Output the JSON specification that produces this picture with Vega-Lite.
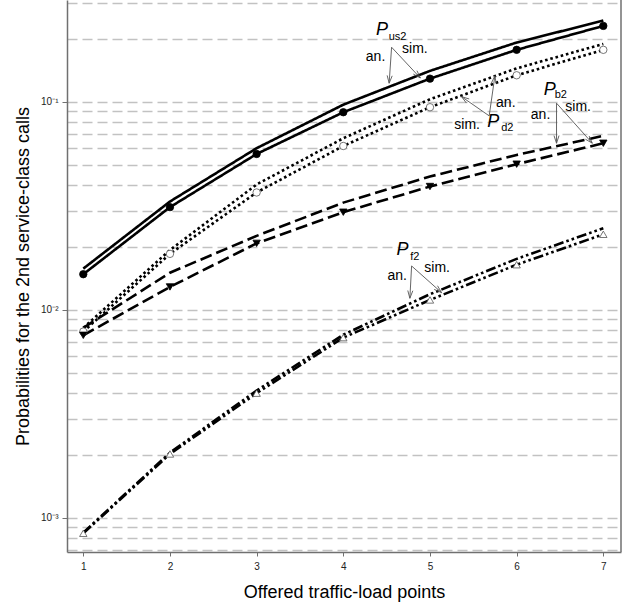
{
  "$schema": "https://vega.github.io/schema/vega-lite/v6.json",
  "width": 554,
  "height": 552,
  "autosize": {"type": "none"},
  "padding": {"left": 67, "top": 0, "right": 14, "bottom": 58},
  "background": "white",
  "config": {
    "view": {"stroke": null},
    "font": "Liberation Sans",
    "axis": {"domainColor": "#707070", "domainWidth": 1.5, "tickColor": "#707070", "labelColor": "#222", "titleColor": "#000", "titleFontWeight": "normal", "titleFont": "Liberation Sans", "labelFont": "Liberation Sans"}
  },
  "datasets": {
    "main": [
      {"x": 1, "s": "us2", "t": "sim", "p": 0.01485},
      {"x": 2, "s": "us2", "t": "sim", "p": 0.0312},
      {"x": 3, "s": "us2", "t": "sim", "p": 0.0562},
      {"x": 4, "s": "us2", "t": "sim", "p": 0.0892},
      {"x": 5, "s": "us2", "t": "sim", "p": 0.1294},
      {"x": 6, "s": "us2", "t": "sim", "p": 0.178},
      {"x": 7, "s": "us2", "t": "sim", "p": 0.232},
      {"x": 1, "s": "us2", "t": "an", "p": 0.0158},
      {"x": 2, "s": "us2", "t": "an", "p": 0.0332},
      {"x": 3, "s": "us2", "t": "an", "p": 0.0599},
      {"x": 4, "s": "us2", "t": "an", "p": 0.097},
      {"x": 5, "s": "us2", "t": "an", "p": 0.141},
      {"x": 6, "s": "us2", "t": "an", "p": 0.193},
      {"x": 7, "s": "us2", "t": "an", "p": 0.246},
      {"x": 1, "s": "d2", "t": "sim", "p": 0.00787},
      {"x": 2, "s": "d2", "t": "sim", "p": 0.0186},
      {"x": 3, "s": "d2", "t": "sim", "p": 0.0367},
      {"x": 4, "s": "d2", "t": "sim", "p": 0.0614},
      {"x": 5, "s": "d2", "t": "sim", "p": 0.0943},
      {"x": 6, "s": "d2", "t": "sim", "p": 0.1343},
      {"x": 7, "s": "d2", "t": "sim", "p": 0.178},
      {"x": 1, "s": "d2", "t": "an", "p": 0.0082},
      {"x": 2, "s": "d2", "t": "an", "p": 0.0194},
      {"x": 3, "s": "d2", "t": "an", "p": 0.0401},
      {"x": 4, "s": "d2", "t": "an", "p": 0.0669},
      {"x": 5, "s": "d2", "t": "an", "p": 0.103},
      {"x": 6, "s": "d2", "t": "an", "p": 0.145},
      {"x": 7, "s": "d2", "t": "an", "p": 0.19},
      {"x": 1, "s": "b2", "t": "sim", "p": 0.00755},
      {"x": 2, "s": "b2", "t": "sim", "p": 0.0129},
      {"x": 3, "s": "b2", "t": "sim", "p": 0.0209},
      {"x": 4, "s": "b2", "t": "sim", "p": 0.0295},
      {"x": 5, "s": "b2", "t": "sim", "p": 0.0392},
      {"x": 6, "s": "b2", "t": "sim", "p": 0.0502},
      {"x": 7, "s": "b2", "t": "sim", "p": 0.0633},
      {"x": 1, "s": "b2", "t": "an", "p": 0.0082},
      {"x": 2, "s": "b2", "t": "an", "p": 0.0151},
      {"x": 3, "s": "b2", "t": "an", "p": 0.0227},
      {"x": 4, "s": "b2", "t": "an", "p": 0.0328},
      {"x": 5, "s": "b2", "t": "an", "p": 0.0438},
      {"x": 6, "s": "b2", "t": "an", "p": 0.0556},
      {"x": 7, "s": "b2", "t": "an", "p": 0.0687},
      {"x": 1, "s": "f2", "t": "sim", "p": 0.000844},
      {"x": 2, "s": "f2", "t": "sim", "p": 0.00203},
      {"x": 3, "s": "f2", "t": "sim", "p": 0.00398},
      {"x": 4, "s": "f2", "t": "sim", "p": 0.00736},
      {"x": 5, "s": "f2", "t": "sim", "p": 0.01117},
      {"x": 6, "s": "f2", "t": "sim", "p": 0.0165},
      {"x": 7, "s": "f2", "t": "sim", "p": 0.0231},
      {"x": 1, "s": "f2", "t": "an", "p": 0.00085},
      {"x": 2, "s": "f2", "t": "an", "p": 0.00206},
      {"x": 3, "s": "f2", "t": "an", "p": 0.0041},
      {"x": 4, "s": "f2", "t": "an", "p": 0.0076},
      {"x": 5, "s": "f2", "t": "an", "p": 0.0119},
      {"x": 6, "s": "f2", "t": "an", "p": 0.0176},
      {"x": 7, "s": "f2", "t": "an", "p": 0.0247}
    ],
    "frame": [{"x": 7.204}],
    "arrows": [
      {"x": 4.557, "y": 0.1832, "x2": 4.529, "y2": 0.123},
      {"x": 4.564, "y": 0.1335, "x2": 4.529, "y2": 0.123},
      {"x": 4.506, "y": 0.1341, "x2": 4.529, "y2": 0.123},
      {"x": 4.557, "y": 0.1832, "x2": 4.889, "y2": 0.1303},
      {"x": 4.85, "y": 0.1413, "x2": 4.889, "y2": 0.1303},
      {"x": 4.808, "y": 0.1361, "x2": 4.889, "y2": 0.1303},
      {"x": 5.683, "y": 0.0857, "x2": 5.749, "y2": 0.1334},
      {"x": 5.708, "y": 0.1231, "x2": 5.749, "y2": 0.1334},
      {"x": 5.765, "y": 0.1222, "x2": 5.749, "y2": 0.1334},
      {"x": 5.683, "y": 0.0857, "x2": 5.364, "y2": 0.106},
      {"x": 5.42, "y": 0.0988, "x2": 5.364, "y2": 0.106},
      {"x": 5.453, "y": 0.1033, "x2": 5.364, "y2": 0.106},
      {"x": 6.46, "y": 0.0986, "x2": 6.46, "y2": 0.0633},
      {"x": 6.489, "y": 0.0689, "x2": 6.46, "y2": 0.0633},
      {"x": 6.431, "y": 0.0689, "x2": 6.46, "y2": 0.0633},
      {"x": 6.46, "y": 0.0986, "x2": 6.873, "y2": 0.0633},
      {"x": 6.836, "y": 0.0686, "x2": 6.873, "y2": 0.0633},
      {"x": 6.793, "y": 0.0662, "x2": 6.873, "y2": 0.0633},
      {"x": 4.788, "y": 0.01627, "x2": 4.768, "y2": 0.01138},
      {"x": 4.802, "y": 0.01237, "x2": 4.768, "y2": 0.01138},
      {"x": 4.744, "y": 0.0124, "x2": 4.768, "y2": 0.01138},
      {"x": 4.788, "y": 0.01627, "x2": 5.134, "y2": 0.01211},
      {"x": 5.087, "y": 0.01307, "x2": 5.134, "y2": 0.01211},
      {"x": 5.049, "y": 0.01255, "x2": 5.134, "y2": 0.01211}
    ],
    "labels": [
      {"x": 4.445, "y": 0.2218, "txt": "P", "k": "P"},
      {"x": 5.729, "y": 0.0804, "txt": "P", "k": "P"},
      {"x": 6.383, "y": 0.1142, "txt": "P", "k": "P"},
      {"x": 4.684, "y": 0.01943, "txt": "P", "k": "P"},
      {"x": 4.524, "y": 0.2061, "txt": "us2", "k": "sub"},
      {"x": 5.822, "y": 0.0747, "txt": "d2", "k": "sub"},
      {"x": 6.439, "y": 0.108, "txt": "b2", "k": "sub"},
      {"x": 4.772, "y": 0.01804, "txt": "f2", "k": "sub"},
      {"x": 4.372, "y": 0.164, "txt": "an.", "k": "note"},
      {"x": 4.826, "y": 0.179, "txt": "sim.", "k": "note"},
      {"x": 5.875, "y": 0.0986, "txt": "an.", "k": "note"},
      {"x": 5.429, "y": 0.0775, "txt": "sim.", "k": "note"},
      {"x": 6.276, "y": 0.0866, "txt": "an.", "k": "note"},
      {"x": 6.709, "y": 0.0949, "txt": "sim.", "k": "note"},
      {"x": 4.622, "y": 0.01457, "txt": "an.", "k": "note"},
      {"x": 5.083, "y": 0.01587, "txt": "sim.", "k": "note"}
    ]
  },
  "layer": [
    {
      "data": {"name": "main"},
      "mark": {"type": "line", "color": "black", "strokeWidth": 2.6},
      "encoding": {
        "x": {"field": "x", "type": "quantitative", "title": "Offered traffic-load points",
          "scale": {"domain": [0.812, 7.204], "nice": false, "zero": false},
          "axis": {"values": [1, 2, 3, 4, 5, 6, 7], "format": "d", "labelFlush": false, "grid": false, "tickSize": 4, "labelFontSize": 10, "labelPadding": 5, "titleFontSize": 18, "titlePadding": 12}},
        "y": {"field": "p", "type": "quantitative", "title": "Probabilities for the 2nd service-class calls",
          "scale": {"type": "log", "domain": [0.000686, 0.309], "nice": false},
          "axis": {"orient": "left",
            "values": [0.0007, 0.0008, 0.0009, 0.001, 0.002, 0.003, 0.004, 0.005, 0.006, 0.007, 0.008, 0.009, 0.01, 0.02, 0.03, 0.04, 0.05, 0.06, 0.07, 0.08, 0.09, 0.1, 0.2, 0.3],
            "labelExpr": "datum.value === 0.1 ? '10⁻¹' : datum.value === 0.01 ? '10⁻²' : datum.value === 0.001 ? '10⁻³' : ''",
            "tickOpacity": {"condition": {"test": "datum.value === 0.1 || datum.value === 0.01 || datum.value === 0.001", "value": 1}, "value": 0},
            "tickSize": 5, "labelPadding": 4, "labelFontSize": 10, "labelFlush": false,
            "grid": true, "gridColor": "#c2c2c2", "gridDash": [10, 5], "gridWidth": 1.6,
            "titleFontSize": 18, "titlePadding": 8}},
        "strokeDash": {"field": "s", "type": "nominal", "legend": null,
          "scale": {"domain": ["us2", "d2", "b2", "f2"], "range": [[1, 0], [2.6, 2.8], [12, 5], [10, 3, 2.6, 3, 2.6, 3]]}},
        "detail": {"field": "t"},
        "order": {"field": "x"}
      }
    },
    {
      "data": {"name": "frame"},
      "mark": {"type": "rule", "color": "#707070", "strokeWidth": 1.5},
      "encoding": {
        "x": {"field": "x", "type": "quantitative"}
      }
    },
    {
      "data": {"name": "main"},
      "transform": [{"filter": "datum.t === 'sim'"}],
      "mark": {"type": "point", "filled": true, "strokeWidth": 0.8, "size": 55, "opacity": 1},
      "encoding": {
        "x": {"field": "x", "type": "quantitative"},
        "y": {"field": "p", "type": "quantitative"},
        "shape": {"field": "s", "type": "nominal", "legend": null, "scale": {"domain": ["us2", "d2", "b2", "f2"], "range": ["circle", "circle", "triangle-down", "triangle-up"]}},
        "fill": {"field": "s", "type": "nominal", "legend": null, "scale": {"domain": ["us2", "d2", "b2", "f2"], "range": ["black", "white", "black", "white"]}},
        "stroke": {"field": "s", "type": "nominal", "legend": null, "scale": {"domain": ["us2", "d2", "b2", "f2"], "range": ["black", "#555555", "black", "#555555"]}}
      }
    },
    {
      "data": {"name": "arrows"},
      "mark": {"type": "rule", "color": "#555555", "strokeWidth": 0.9},
      "encoding": {
        "x": {"field": "x", "type": "quantitative"},
        "y": {"field": "y", "type": "quantitative"},
        "x2": {"field": "x2"},
        "y2": {"field": "y2"}
      }
    },
    {
      "data": {"name": "labels"},
      "transform": [{"filter": "datum.k === 'P'"}],
      "mark": {"type": "text", "fontSize": 18, "fontStyle": "italic", "align": "center", "baseline": "middle", "color": "black"},
      "encoding": {
        "x": {"field": "x", "type": "quantitative"},
        "y": {"field": "y", "type": "quantitative"},
        "text": {"field": "txt"}
      }
    },
    {
      "data": {"name": "labels"},
      "transform": [{"filter": "datum.k === 'sub'"}],
      "mark": {"type": "text", "fontSize": 11, "align": "left", "baseline": "middle", "color": "black"},
      "encoding": {
        "x": {"field": "x", "type": "quantitative"},
        "y": {"field": "y", "type": "quantitative"},
        "text": {"field": "txt"}
      }
    },
    {
      "data": {"name": "labels"},
      "transform": [{"filter": "datum.k === 'note'"}],
      "mark": {"type": "text", "fontSize": 14, "align": "center", "baseline": "middle", "color": "black"},
      "encoding": {
        "x": {"field": "x", "type": "quantitative"},
        "y": {"field": "y", "type": "quantitative"},
        "text": {"field": "txt"}
      }
    }
  ]
}
